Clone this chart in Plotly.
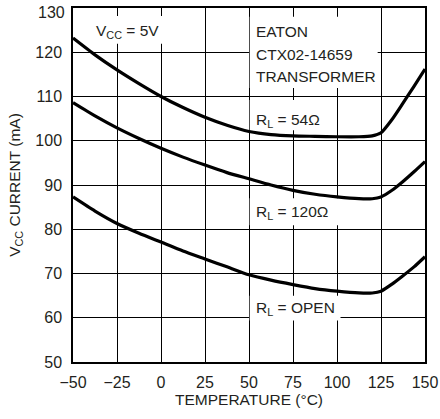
import plotly.graph_objects as go

temps = [-50, -37.5, -25, -12.5, 0, 12.5, 25, 37.5, 50, 62.5, 75, 87.5, 100, 112.5, 120, 125, 131.25, 137.5, 143.75, 150]
i_54 = [123.2, 119.4, 116.0, 112.9, 110.0, 107.5, 105.3, 103.5, 102.1, 101.4, 101.1, 101.0, 100.9, 100.9, 101.1, 101.8, 104.8, 108.5, 112.3, 116.2]
i_120 = [108.6, 105.6, 102.9, 100.5, 98.3, 96.3, 94.5, 92.8, 91.4, 90.0, 88.8, 87.9, 87.3, 86.9, 86.9, 87.3, 88.8, 90.8, 93.0, 95.3]
i_open = [87.3, 84.1, 81.3, 79.1, 77.1, 75.1, 73.3, 71.5, 69.7, 68.5, 67.5, 66.6, 66.0, 65.6, 65.6, 66.0, 67.6, 69.5, 71.5, 73.8]

x_ticks = [-50, -25, 0, 25, 50, 75, 100, 125, 150]
x_tick_text = ["\u221250", "\u221225", "0", "25", "50", "75", "100", "125", "150"]
y_ticks = [50, 60, 70, 80, 90, 100, 110, 120, 130]

FONT = "Liberation Sans, Arial, sans-serif"
TXT = "#231f20"

fig = go.Figure()
for ys in (i_54, i_120, i_open):
    fig.add_trace(go.Scatter(x=temps, y=ys, mode="lines",
                             line=dict(color="black", width=3.2, shape="spline", smoothing=0.6),
                             showlegend=False, hoverinfo="skip"))

# white patches hiding the grid behind the labels (drawn between grid and curves)
patches = [
    (-41.6, 2.1, 121.9, 128.2),
    (50.4, 123.1, 111.9, 128.0),
    (50.4, 97.7, 102.4, 109.2),
    (50.4, 101.0, 80.9, 87.0),
    (50.4, 102.0, 59.4, 65.0),
]
for x0, x1, y0, y1 in patches:
    fig.add_shape(type="rect", x0=x0, x1=x1, y0=y0, y1=y1, xref="x", yref="y",
                  fillcolor="white", line=dict(width=0), layer="between")

labels = [
    (-19.2, 124.6, "V<sub>CC</sub> = 5V", "center"),
    (53.5, 124.7, "EATON", "left"),
    (53.5, 119.4, "CTX02-14659", "left"),
    (53.5, 114.5, "TRANSFORMER", "left"),
    (53.5, 104.6, "R<sub>L</sub> = 54\u03a9", "left"),
    (53.5, 83.8, "R<sub>L</sub> = 120\u03a9", "left"),
    (53.5, 62.0, "R<sub>L</sub> = OPEN", "left"),
]
for x, y, t, al in labels:
    fig.add_annotation(x=x, y=y, text=t, showarrow=False, align="left",
                       xanchor="center" if al == "center" else "left",
                       borderpad=0,
                       font=dict(family=FONT, size=15.5, color=TXT))

# top tick label drawn slightly below the border so it is not clipped
fig.add_annotation(x=0, xref="paper", y=y_ticks[-1], yref="y", text=str(y_ticks[-1]),
                   showarrow=False, xanchor="right", yanchor="middle", xshift=-6, yshift=-4,
                   font=dict(family=FONT, size=16, color=TXT))

axis_common = dict(showline=True, linecolor="black", linewidth=1.5, mirror=True,
                   showgrid=True, gridcolor="black", gridwidth=1, zeroline=False,
                   automargin=False, ticks="",
                   tickfont=dict(family=FONT, size=16, color=TXT))

fig.update_xaxes(range=[-50, 150], tickvals=x_ticks, ticktext=x_tick_text,
                 title=dict(text="TEMPERATURE (\u00b0C)", font=dict(family=FONT, size=15.5, color=TXT), standoff=4),
                 ticklabelstandoff=5, **axis_common)
fig.update_yaxes(range=[50, 130], tickvals=y_ticks,
                 ticktext=[str(v) for v in y_ticks[:-1]] + [""],
                 title=dict(text="V<sub>CC</sub> CURRENT (mA)", font=dict(family=FONT, size=15.5, color=TXT), standoff=11),
                 ticklabelstandoff=6, **axis_common)

fig.update_layout(width=440, height=419, margin=dict(l=73, r=15, t=8, b=57),
                  plot_bgcolor="white", paper_bgcolor="white")

fig.write_html("out.html", config={"displayModeBar": False},
               post_script="document.body.style.margin='0px';")
